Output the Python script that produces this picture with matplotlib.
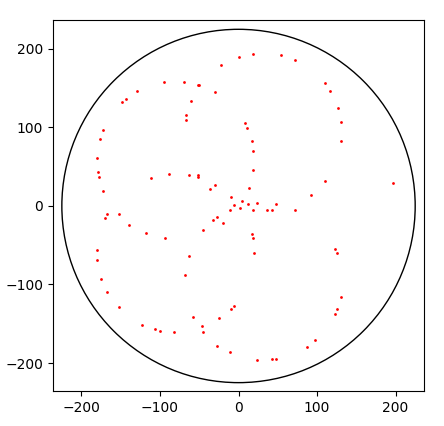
import matplotlib
matplotlib.use("Agg")
import matplotlib.pyplot as plt
from matplotlib.patches import Circle

# circle radius
radius = 225

# point coordinates
xs = [-94.3, -129.6, -143.6, -148.7, -69.7, -60.8, -52.2, -49.7, -30.2, -22.5,
      0.4, 18.2, 53.9, 71.7, 109.9, 116.3, 126.5, -172.9, -176.7, -180.5,
      -179.2, -178.0, -172.9, -111.7, -88.8, -67.1, -67.1, 8.0, 10.6, 16.9,
      18.2, 18.2, -63.3, -51.8, -51.8, -30.2, -36.6, 13.1, -9.8, 4.2,
      130.3, 130.3, 109.9, 92.1, 196.6, -167.8, -170.3, -152.5, -139.7, -118.1,
      -93.9, -180.5, -180.5, -175.4, -167.8, -6.0, 23.3, 11.8, -11.1, 1.7,
      18.2, 36.1, 42.4, 47.5, 71.7, -27.6, -32.7, -20.0, -45.5, 16.9,
      18.2, 19.5, -63.3, -68.4, 122.7, 125.2, 130.3, -152.5, -123.2, -106.6,
      -100.3, -82.4, -6.0, -9.8, -58.2, -25.4, -46.8, -45.5, -27.6, -11.1,
      23.3, 42.4, 47.5, 125.2, 122.7, 97.2, 87.1]
ys = [157.6, 146.1, 135.7, 131.8, 157.3, 133.1, 153.5, 153.5, 144.6, 179.0,
      189.2, 193.0, 191.7, 185.4, 156.0, 145.9, 124.6, 96.2, 84.7, 60.5,
      42.7, 36.3, 18.5, 35.0, 40.1, 115.3, 108.9, 105.1, 98.7, 82.2,
      69.4, 45.2, 38.9, 38.9, 36.3, 26.1, 21.0, 22.3, 10.8, 5.7,
      106.4, 82.2, 31.2, 14.6, 28.7, -10.8, -15.9, -10.8, -23.6, -35.0,
      -41.4, -56.7, -69.4, -93.6, -110.2, 0.6, 3.2, 1.9, -5.7, -3.2,
      -5.7, -5.7, -5.7, 1.9, -4.5, -14.6, -18.5, -22.3, -31.2, -36.3,
      -41.4, -60.5, -63.1, -87.3, -55.4, -60.5, -115.3, -129.3, -151.0, -157.3,
      -158.6, -159.9, -126.8, -131.8, -140.8, -143.3, -153.5, -161.1, -177.7, -186.6,
      -196.8, -195.5, -195.5, -131.8, -138.2, -171.3, -179.0]

fig = plt.figure(figsize=(4.44, 4.26), dpi=100)
ax = fig.add_axes([0.1194, 0.081, 0.8356, 0.871])

ax.add_patch(Circle((0, 0), radius, fill=False, edgecolor='black', linewidth=1))
ax.scatter(xs, ys, s=4, color='red', linewidths=0)

lim = radius * 1.05
ax.set_xlim(-lim, lim)
ax.set_ylim(-lim, lim)
ax.set_aspect('equal')
ax.set_xticks([-200, -100, 0, 100, 200])
ax.set_yticks([-200, -100, 0, 100, 200])

fig.savefig('out.png', dpi=100)
